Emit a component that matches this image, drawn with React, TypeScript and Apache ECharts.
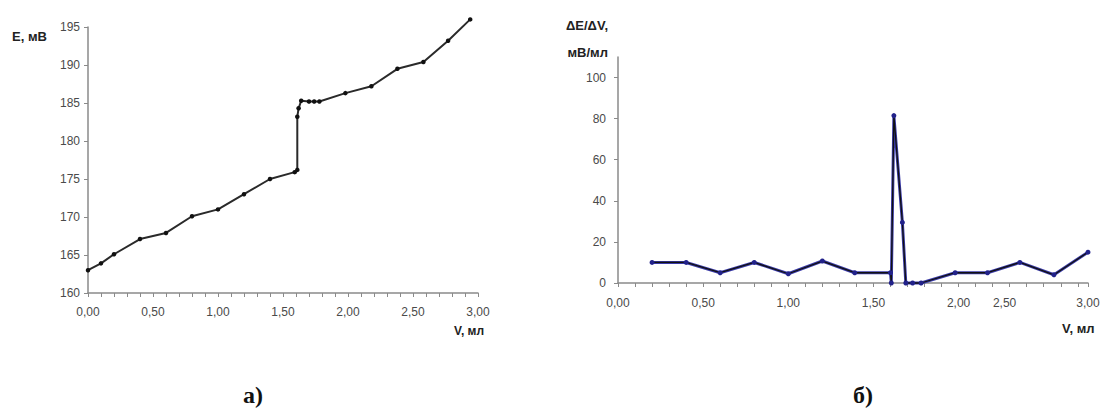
import React, { useEffect, useRef } from "react";
import * as echarts from "echarts";

// Chart (a): titration curve E vs V
const volumeA: number[] = [0, 0.1, 0.2, 0.4, 0.6, 0.8, 1.0, 1.2, 1.4, 1.59, 1.61, 1.61, 1.62, 1.64, 1.7, 1.74, 1.78, 1.98, 2.18, 2.38, 2.58, 2.77, 2.94];
const potentialA: number[] = [163, 163.9, 165.1, 167.1, 167.9, 170.1, 171, 173, 175, 175.9, 176.2, 183.2, 184.3, 185.3, 185.2, 185.2, 185.2, 186.3, 187.2, 189.5, 190.4, 193.2, 196];

// Chart (б): first derivative dE/dV vs V
const volumeB: number[] = [0.2, 0.4, 0.6, 0.8, 1.0, 1.2, 1.39, 1.6, 1.605, 1.62, 1.67, 1.69, 1.73, 1.78, 1.98, 2.17, 2.36, 2.56, 2.76];
const derivB: number[] = [10, 10, 5, 10, 4.5, 10.7, 5, 5, 0, 81.5, 29.5, 0, 0, 0, 5, 5, 10, 4, 15];

// Tick labels
const yTicksA: number[] = [160, 165, 170, 175, 180, 185, 190, 195];
const xTicksA: number[] = [0, 0.5, 1.0, 1.5, 2.0, 2.5, 3.0];
const yTicksB: number[] = [0, 20, 40, 60, 80, 100];
const xLabelTextB: string[] = ["0,00", "0,50", "1,00", "1,50", "2,00", "2,50", "3,00"];
const xLabelPosB: number[] = [0, 0.5, 1.0, 1.5, 2.0, 2.27, 2.76];

const fmtComma = (v: number) => v.toFixed(2).replace(".", ",");

export default function App() {
  const ref = useRef<HTMLDivElement>(null);

  useEffect(() => {
    if (!ref.current) return;
    const chart = echarts.init(ref.current, undefined, { renderer: "svg" });

    const axisLine = { show: true, lineStyle: { color: "#8a8a8a", width: 1.5 } };
    const axisTick = { show: true, length: 4, inside: false, lineStyle: { color: "#8a8a8a", width: 1 } };
    const labelStyle = { color: "#4a4a4a", fontSize: 12, fontFamily: "Liberation Sans, Arial, sans-serif" };

    chart.setOption({
      animation: false,
      backgroundColor: "#ffffff",
      grid: [
        { left: 88, top: 27, width: 390, height: 266, containLabel: false },
        { left: 618, top: 57, width: 470, height: 226, containLabel: false },
      ],
      xAxis: [
        {
          gridIndex: 0,
          type: "value",
          min: 0,
          max: 3,
          interval: 0.1,
          axisLine,
          axisTick,
          splitLine: { show: false },
          axisLabel: {
            ...labelStyle,
            margin: 13,
            customValues: xTicksA,
            formatter: (v: number) => fmtComma(v),
          },
        },
        {
          gridIndex: 1,
          type: "value",
          min: 0,
          max: 2.76,
          interval: 0.1,
          axisLine,
          axisTick,
          splitLine: { show: false },
          axisLabel: {
            ...labelStyle,
            margin: 14,
            customValues: xLabelPosB,
            formatter: (v: number) => {
              let best = 0;
              let bd = Infinity;
              xLabelPosB.forEach((p, i) => {
                const d = Math.abs(p - v);
                if (d < bd) { bd = d; best = i; }
              });
              return xLabelTextB[best];
            },
          },
        },
      ],
      yAxis: [
        {
          gridIndex: 0,
          type: "value",
          min: 160,
          max: 195,
          interval: 5,
          axisLine,
          axisTick: { ...axisTick, customValues: yTicksA },
          splitLine: { show: false },
          axisLabel: { ...labelStyle, margin: 8, customValues: yTicksA },
        },
        {
          gridIndex: 1,
          type: "value",
          min: 0,
          max: 110,
          interval: 20,
          axisLine,
          axisTick: { ...axisTick, customValues: yTicksB },
          splitLine: { show: false },
          axisLabel: { ...labelStyle, margin: 12, customValues: yTicksB },
        },
      ],
      series: [
        {
          type: "line",
          xAxisIndex: 0,
          yAxisIndex: 0,
          clip: false,
          data: volumeA.map((v, i) => [v, potentialA[i]]),
          lineStyle: { color: "#2a2a2a", width: 2 },
          itemStyle: { color: "#111111" },
          symbol: "circle",
          symbolSize: 4.5,
          showSymbol: true,
        },
        {
          type: "line",
          xAxisIndex: 1,
          yAxisIndex: 1,
          clip: false,
          data: volumeB.map((v, i) => [v, derivB[i]]),
          lineStyle: { color: "#3a3aa8", width: 3 },
          itemStyle: { color: "#22228a" },
          symbol: "circle",
          symbolSize: 5,
          showSymbol: true,
        },
        {
          type: "line",
          xAxisIndex: 1,
          yAxisIndex: 1,
          clip: false,
          data: volumeB.map((v, i) => [v, derivB[i]]),
          lineStyle: { color: "#111111", width: 1.3 },
          symbol: "none",
        },
      ],
      graphic: [
        {
          type: "text",
          x: 12,
          y: 36,
          style: { text: "E, мВ", fill: "#222", font: "bold 13px Liberation Sans, Arial, sans-serif", textVerticalAlign: "middle" },
        },
        {
          type: "text",
          x: 608,
          y: 25,
          style: { text: "ΔE/ΔV,", fill: "#222", font: "bold 13px Liberation Sans, Arial, sans-serif", textAlign: "right", textVerticalAlign: "middle" },
        },
        {
          type: "text",
          x: 608,
          y: 52,
          style: { text: "мВ/мл", fill: "#222", font: "bold 13px Liberation Sans, Arial, sans-serif", textAlign: "right", textVerticalAlign: "middle" },
        },
        {
          type: "text",
          x: 454,
          y: 331,
          style: { text: "V, мл", fill: "#222", font: "bold 12px Liberation Sans, Arial, sans-serif", textVerticalAlign: "middle" },
        },
        {
          type: "text",
          x: 1062,
          y: 328,
          style: { text: "V, мл", fill: "#222", font: "bold 13px Liberation Sans, Arial, sans-serif", textVerticalAlign: "middle" },
        },
        {
          type: "text",
          x: 243,
          y: 395,
          style: { text: "а)", fill: "#111", font: "bold 24px Liberation Serif, DejaVu Serif, serif", textVerticalAlign: "middle" },
        },
        {
          type: "text",
          x: 853,
          y: 395,
          style: { text: "б)", fill: "#111", font: "bold 24px Liberation Serif, DejaVu Serif, serif", textVerticalAlign: "middle" },
        },
      ],
    });

    return () => chart.dispose();
  }, []);

  return (
    <div
      ref={ref}
      style={{ position: "fixed", left: 0, top: 0, width: 1112, height: 412, background: "#fff" }}
    />
  );
}
